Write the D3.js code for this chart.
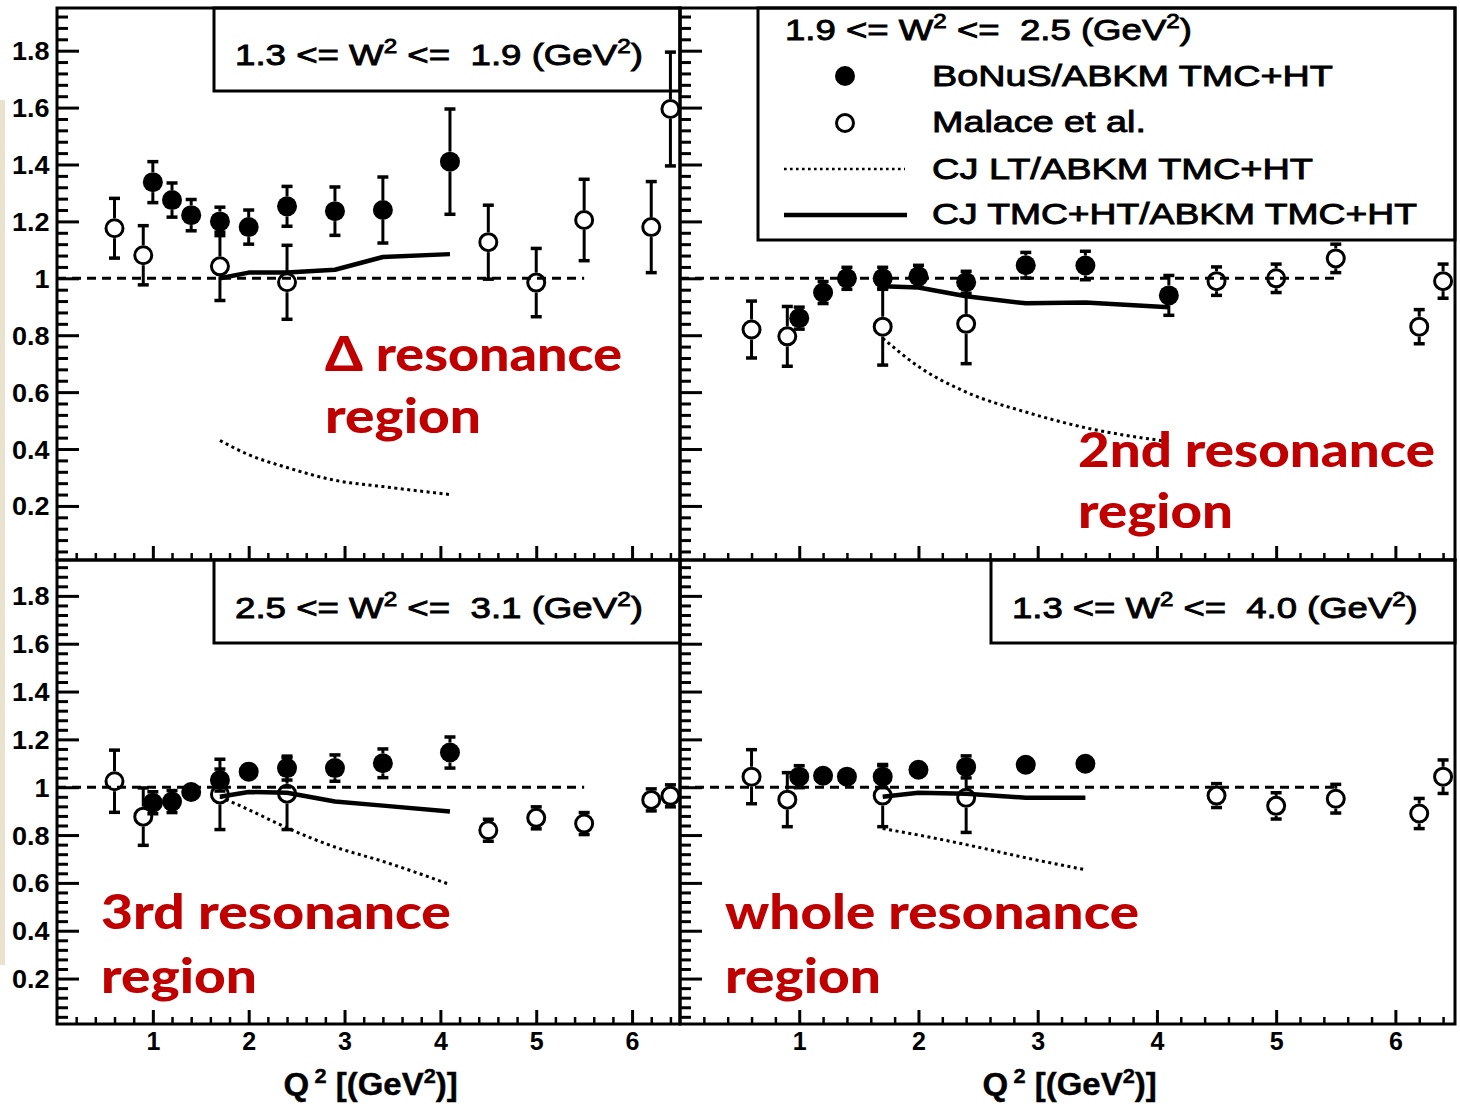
<!DOCTYPE html>
<html>
<head>
<meta charset="utf-8">
<script src="https://cdn.jsdelivr.net/npm/d3@7"></script>
<style>
  body { margin: 0; background: #fff; }
  svg { display: block; }
  text { white-space: pre; }
</style>
</head>
<body>
<svg id="chart" width="1460" height="1110"></svg>
<script>
// ---------------- data ----------------
// Q^2 grid (GeV^2) for each series
const bonusQ2      = [1.0, 1.2, 1.4, 1.7, 2.0, 2.4, 2.9, 3.4, 4.1];
const bonusQ2Whole = [1.0, 1.2, 1.4, 1.7, 2.0, 2.4, 2.9, 3.4];
const malaceQ2     = [0.6, 0.9, 1.7, 2.4, 4.5, 5.0, 5.5, 6.2, 6.4];
const curveQ2      = [1.7, 2.0, 2.4, 2.9, 3.4, 4.1];
const curveQ2Whole = [1.7, 2.0, 2.4, 2.9, 3.4];

// Delta resonance region, 1.3 <= W^2 <= 1.9
const bonusDelta     = [1.338, 1.275, 1.222, 1.200, 1.180, 1.253, 1.236, 1.240, 1.410];
const bonusDeltaErr  = [0.072, 0.060, 0.055, 0.050, 0.060, 0.070, 0.085, 0.116, 0.185];
const malaceDelta    = [1.176, 1.081, 1.042, 0.986, 1.127, 0.985, 1.205, 1.180, 1.595];
const malaceDeltaErr = [0.105, 0.104, 0.120, 0.130, 0.130, 0.120, 0.143, 0.160, 0.200];
const cjLtDelta      = [0.430, 0.380, 0.335, 0.290, 0.268, 0.240];
const cjFullDelta    = [1.000, 1.020, 1.020, 1.030, 1.075, 1.085];

// 2nd resonance region, 1.9 <= W^2 <= 2.5
const bonusSecond     = [0.860, 0.950, 1.000, 1.000, 1.007, 0.986, 1.046, 1.045, 0.940];
const bonusSecondErr  = [0.030, 0.030, 0.030, 0.030, 0.030, 0.030, 0.045, 0.050, 0.070];
const malaceSecond    = [0.820, 0.796, 0.830, 0.840, 0.990, 1.000, 1.070, 0.830, 0.990];
const malaceSecondErr = [0.100, 0.105, 0.135, 0.140, 0.050, 0.050, 0.050, 0.060, 0.060];
const cjLtSecond      = [0.790, 0.690, 0.600, 0.530, 0.475, 0.426];
const cjFullSecond    = [0.972, 0.968, 0.937, 0.912, 0.915, 0.898];

// 3rd resonance region, 2.5 <= W^2 <= 3.1
const bonusThird     = [0.935, 0.940, 0.980, 1.030, 1.065, 1.080, 1.080, 1.100, 1.145];
const bonusThirdErr  = [0.030, 0.030, 0.020, 0.040, 0.020, 0.050, 0.055, 0.060, 0.065];
const malaceThird    = [1.025, 0.877, 0.970, 0.973, 0.820, 0.872, 0.848, 0.947, 0.964];
const malaceThirdErr = [0.130, 0.120, 0.147, 0.150, 0.030, 0.030, 0.035, 0.035, 0.035];
const cjLtThird      = [0.960, 0.906, 0.830, 0.750, 0.690, 0.593];
const cjFullThird    = [0.960, 0.980, 0.977, 0.940, 0.923, 0.898];

// whole resonance region, 1.3 <= W^2 <= 4.0
const bonusWhole     = [1.044, 1.048, 1.044, 1.044, 1.073, 1.085, 1.094, 1.098];
const bonusWholeErr  = [0.040, 0.020, 0.020, 0.040, 0.020, 0.030, 0.020, 0.020];
const malaceWhole    = [1.044, 0.948, 0.965, 0.956, 0.965, 0.922, 0.952, 0.890, 1.044];
const malaceWholeErr = [0.113, 0.113, 0.130, 0.145, 0.050, 0.055, 0.060, 0.063, 0.070];
const cjLtWhole      = [0.827, 0.800, 0.760, 0.705, 0.655];
const cjFullWhole    = [0.960, 0.977, 0.973, 0.956, 0.956];

// axis ticks and texts
const yTickValues = [0.2, 0.4, 0.6, 0.8, 1, 1.2, 1.4, 1.6, 1.8];
const xTickValues = [1, 2, 3, 4, 5, 6];
const unityRange  = [0, 5.5];
const binLabels   = [
  ["1.3", "1.9"], ["1.9", "2.5"], ["2.5", "3.1"], ["1.3", "4.0"]
];
const regionNotes = [
  ["\u0394 resonance", "region"],
  ["2nd resonance", "region"],
  ["3rd resonance", "region"],
  ["whole resonance", "region"]
];
const legendLabels = [
  "BoNuS/ABKM TMC+HT",
  "Malace et al.",
  "CJ LT/ABKM TMC+HT",
  "CJ TMC+HT/ABKM TMC+HT"
];

// ---------------- layout ----------------
const svg = d3.select("#chart");
const LABEL_FONT = "'Liberation Sans', Arial, Helvetica, sans-serif";
const NOTE_FONT = "Lato, 'Open Sans', sans-serif";
const RED = "#c00000";
const MARK_R = 10;

const xLeft  = d3.scaleLinear().domain([0, 6.5]).range([57, 680]);
const xRight = d3.scaleLinear().domain([0, 6.5]).range([680, 1455]);
const yTop   = d3.scaleLinear().domain([0.01, 1.95]).range([560, 8]);
const yBot   = d3.scaleLinear().domain([0.01, 1.95]).range([1024, 560]);

const panels = [
  { x: xLeft,  y: yTop, showY: true,  showX: false,
    bq: bonusQ2, b: bonusDelta, be: bonusDeltaErr, m: malaceDelta, me: malaceDeltaErr,
    cq: curveQ2, lt: cjLtDelta, full: cjFullDelta,
    box: [214, 8, 466, 83], head: [235, 65, 408], bin: binLabels[0],
    note: regionNotes[0], notePos: [325, 371, 433], noteW: [297, 156] },
  { x: xRight, y: yTop, showY: false, showX: false,
    bq: bonusQ2, b: bonusSecond, be: bonusSecondErr, m: malaceSecond, me: malaceSecondErr,
    cq: curveQ2, lt: cjLtSecond, full: cjFullSecond,
    box: [758, 8, 697, 232], head: [785, 40, 407], bin: binLabels[1],
    note: regionNotes[1], notePos: [1078, 467, 528], noteW: [357, 155] },
  { x: xLeft,  y: yBot, showY: true,  showX: true,
    bq: bonusQ2, b: bonusThird, be: bonusThirdErr, m: malaceThird, me: malaceThirdErr,
    cq: curveQ2, lt: cjLtThird, full: cjFullThird,
    box: [214, 560, 466, 83], head: [235, 618, 408], bin: binLabels[2],
    note: regionNotes[2], notePos: [101, 929, 993], noteW: [350, 156] },
  { x: xRight, y: yBot, showY: false, showX: true,
    bq: bonusQ2Whole, b: bonusWhole, be: bonusWholeErr, m: malaceWhole, me: malaceWholeErr,
    cq: curveQ2Whole, lt: cjLtWhole, full: cjFullWhole,
    box: [991, 560, 464, 83], head: [1012, 618, 406], bin: binLabels[3],
    note: regionNotes[3], notePos: [725, 929, 993], noteW: [414, 156] }
];

// slide-background strip at the far left
svg.append("rect").attr("x", 0).attr("y", 100).attr("width", 5).attr("height", 865)
  .attr("fill", "#e9e2cf");

// text with superscripts, stretched horizontally to a given width
function richText(parent, x, y, parts, size, weight, targetW, thicken) {
  const t = parent.append("text")
    .attr("font-family", LABEL_FONT)
    .attr("font-size", size)
    .attr("font-weight", weight)
    .attr("fill", "#000");
  if (thicken) t.attr("stroke", "#000").attr("stroke-width", thicken);
  let raised = false;
  const up = size * 0.40;
  parts.forEach(([s, sup, dx]) => {
    const ts = t.append("tspan").text(s);
    if (dx) ts.attr("dx", dx);
    if (sup) {
      ts.attr("font-size", size * 0.66).attr("dy", raised ? 0 : -up);
      raised = true;
    } else {
      ts.attr("dy", raised ? up : 0);
      raised = false;
    }
  });
  const w = t.node().getComputedTextLength();
  const k = targetW ? targetW / w : 1;
  t.attr("transform", `translate(${x},${y}) scale(${k},1)`);
  return t;
}

function binParts(lo, hi) {
  return [[lo + " <= W", false], ["2", true], [" <=  " + hi + " (GeV", false], ["2", true], [")", false]];
}

const yMinor = d3.range(1, 49).filter(i => i % 5 !== 0).map(i => i * 0.04);
const xMinor = d3.range(1, 33).filter(i => i % 5 !== 0).map(i => i * 0.2);

function styleAxis(g, width) {
  g.select(".domain").remove();
  g.selectAll(".tick line").attr("stroke", "#000").attr("stroke-width", width);
}

panels.forEach((p, idx) => {
  const g = svg.append("g");
  const [xa, xb] = p.x.range();
  const [yb, ya] = p.y.range();

  // header / legend box
  g.append("rect").attr("x", p.box[0]).attr("y", p.box[1])
    .attr("width", p.box[2]).attr("height", p.box[3])
    .attr("fill", "#fff").attr("stroke", "#000").attr("stroke-width", 3);
  richText(g, p.head[0], p.head[1], binParts(p.bin[0], p.bin[1]), 30, "normal", p.head[2], 0.9);

  // y axis: ticks pointing into the frame
  const yMaj = g.append("g").attr("transform", `translate(${xa},0)`)
    .call(d3.axisLeft(p.y).tickValues(yTickValues).tickSize(-22).tickPadding(7)
      .tickFormat(p.showY ? (d => String(d)) : ""));
  styleAxis(yMaj, 3);
  yMaj.selectAll("text")
    .attr("font-family", LABEL_FONT).attr("font-size", 25).attr("font-weight", "bold")
    .attr("fill", "#000").attr("dy", "0.36em")
    .attr("transform", "scale(1.08,1)");
  const yMin = g.append("g").attr("transform", `translate(${xa},0)`)
    .call(d3.axisLeft(p.y).tickValues(yMinor).tickSize(-11).tickFormat(""));
  styleAxis(yMin, 3);

  // x axis: ticks pointing up
  const xMaj = g.append("g").attr("transform", `translate(0,${yb})`)
    .call(d3.axisBottom(p.x).tickValues(xTickValues).tickSize(-14).tickPadding(8)
      .tickFormat(p.showX ? (d => String(d)) : ""));
  styleAxis(xMaj, 3);
  xMaj.selectAll("text")
    .attr("font-family", LABEL_FONT).attr("font-size", 25).attr("font-weight", "bold")
    .attr("fill", "#000");
  const xMin = g.append("g").attr("transform", `translate(0,${yb})`)
    .call(d3.axisBottom(p.x).tickValues(xMinor).tickSize(-7).tickFormat(""));
  styleAxis(xMin, 2.5);

  // frame
  g.append("rect").attr("x", xa).attr("y", ya).attr("width", xb - xa).attr("height", yb - ya)
    .attr("fill", "none").attr("stroke", "#000").attr("stroke-width", 3);

  // axis title
  if (p.showX) {
    const t = richText(g, 0, 0,
      [["Q", false], ["2", true, 5], [" [(GeV", false], ["2", true], [")]", false]],
      31, "bold", null, 0.4);
    const w = t.node().getComputedTextLength();
    const k = 169 / w;
    t.attr("transform", `translate(${(xa + xb) / 2 - 85},1095) scale(${k},1)`);
  }

  // unity reference
  g.append("line")
    .attr("x1", p.x(unityRange[0])).attr("x2", p.x(unityRange[1]))
    .attr("y1", p.y(1)).attr("y2", p.y(1))
    .attr("stroke", "#000").attr("stroke-width", 3).attr("stroke-dasharray", "9,6");

  // CJ curves
  const dotted = d3.line().x((d, i) => p.x(p.cq[i])).y(d => p.y(d)).curve(d3.curveMonotoneX);
  g.append("path").attr("d", dotted(p.lt))
    .attr("fill", "none").attr("stroke", "#000").attr("stroke-width", 3)
    .attr("stroke-dasharray", "3,3.5");
  const solid = d3.line().x((d, i) => p.x(p.cq[i])).y(d => p.y(d));
  g.append("path").attr("d", solid(p.full))
    .attr("fill", "none").attr("stroke", "#000").attr("stroke-width", 4.5)
    .attr("stroke-linejoin", "round");

  // points with error bars (bars stop at the marker edge)
  function series(qs, vals, errs, filled) {
    const sg = g.append("g");
    vals.forEach((v, i) => {
      const cx = p.x(qs[i]);
      const cy = p.y(v);
      const errPx = cy - p.y(v + errs[i]);
      // open markers always show their caps; tiny errors on filled markers vanish
      if (!filled || errPx > MARK_R - 3) {
        const hi = Math.min(p.y(v + errs[i]), cy - MARK_R - 1);
        const lo = Math.max(p.y(v - errs[i]), cy + MARK_R + 1);
        [[cy - MARK_R, hi], [cy + MARK_R, lo]].forEach(([a, b]) => {
          sg.append("line").attr("x1", cx).attr("x2", cx).attr("y1", a).attr("y2", b)
            .attr("stroke", "#000").attr("stroke-width", 3);
          sg.append("line").attr("x1", cx - 5.5).attr("x2", cx + 5.5).attr("y1", b).attr("y2", b)
            .attr("stroke", "#000").attr("stroke-width", 3.5);
        });
      }
      if (filled) {
        sg.append("circle").attr("cx", cx).attr("cy", cy).attr("r", MARK_R).attr("fill", "#000");
      } else {
        sg.append("circle").attr("cx", cx).attr("cy", cy).attr("r", MARK_R - 1.5)
          .attr("fill", "none").attr("stroke", "#000").attr("stroke-width", 3);
      }
    });
  }
  series(malaceQ2, p.m, p.me, false);
  series(p.bq, p.b, p.be, true);

  // red region notes
  p.note.forEach((s, j) => {
    g.append("text")
      .attr("x", p.notePos[0]).attr("y", p.notePos[1 + j])
      .attr("font-family", NOTE_FONT).attr("font-size", 48).attr("font-weight", 900)
      .attr("fill", RED)
      .attr("textLength", p.noteW[j]).attr("lengthAdjust", "spacingAndGlyphs")
      .text(s);
  });
});

// legend (inside the 2nd-region box)
const lg = svg.append("g");
const legendRows = [86, 132, 179, 224];
lg.append("circle").attr("cx", 845).attr("cy", legendRows[0] - 10).attr("r", MARK_R).attr("fill", "#000");
lg.append("circle").attr("cx", 845).attr("cy", legendRows[1] - 9).attr("r", MARK_R - 1.5)
  .attr("fill", "none").attr("stroke", "#000").attr("stroke-width", 3);
lg.append("line").attr("x1", 784).attr("x2", 905).attr("y1", legendRows[2] - 10).attr("y2", legendRows[2] - 10)
  .attr("stroke", "#000").attr("stroke-width", 2.6).attr("stroke-dasharray", "2.6,3.4");
lg.append("line").attr("x1", 784).attr("x2", 907).attr("y1", legendRows[3] - 9).attr("y2", legendRows[3] - 9)
  .attr("stroke", "#000").attr("stroke-width", 4.5);
const legendWidths = [401, 214, 381, 485];
legendLabels.forEach((s, i) => {
  richText(lg, 932, legendRows[i], [[s, false]], 30, "normal", legendWidths[i], 0.9);
});
</script>
</body>
</html>
